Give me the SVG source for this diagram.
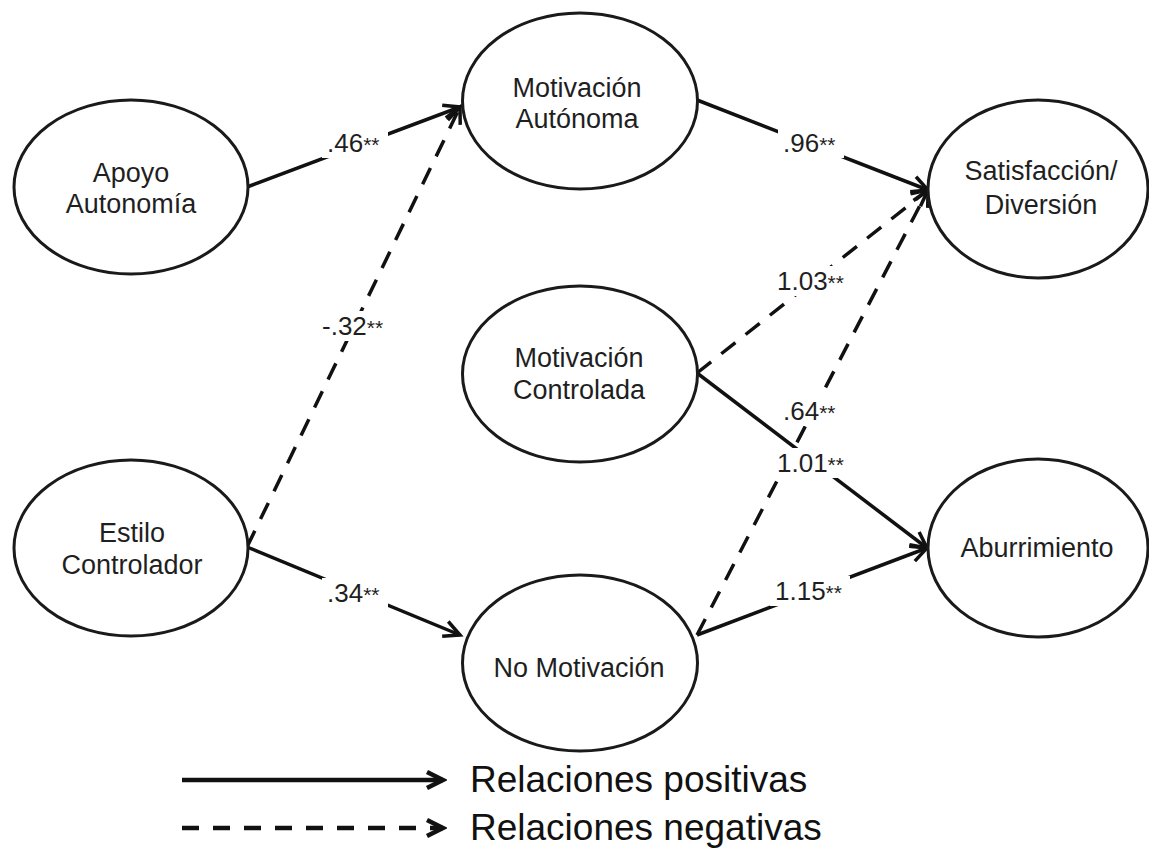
<svg xmlns="http://www.w3.org/2000/svg" width="1149" height="850" viewBox="0 0 1149 850">
<style>
.node ellipse{fill:#fff;stroke:#1a1a1a;stroke-width:3}
.node text{font-family:"Liberation Sans",Arial,sans-serif;font-size:27px;fill:#1f1f1f;text-anchor:middle}
.edge{fill:none;stroke:#111;stroke-width:3.5}
.dash{stroke-dasharray:18 13}
.lbl{font-family:"Liberation Sans",Arial,sans-serif;font-size:26px;fill:#1f1f1f}
.st{font-size:21px}
.bg{fill:#fff}
.leg{font-family:"Liberation Sans",Arial,sans-serif;font-size:37px;fill:#111}
.legline{fill:none;stroke:#111;stroke-width:4.5}
</style>
<defs>
<marker id="arr" viewBox="-20 -12 24 24" refX="0" refY="0" markerWidth="24" markerHeight="24" markerUnits="userSpaceOnUse" orient="auto">
<path d="M-16,-8 L0,0 L-16,8" fill="none" stroke="#111" stroke-width="3.5" stroke-linejoin="miter"/>
</marker>
<marker id="arrL" viewBox="-20 -12 24 24" refX="0" refY="0" markerWidth="24" markerHeight="24" markerUnits="userSpaceOnUse" orient="auto">
<path d="M-16,-8 L0,0 L-16,8" fill="none" stroke="#111" stroke-width="4.5" stroke-linejoin="miter"/>
</marker>
</defs>
<rect width="1149" height="850" fill="#fff"/>
<g id="connectors">
<line class="edge" x1="247" y1="187" x2="460" y2="107" marker-end="url(#arr)"/>
<line class="edge dash" x1="247" y1="547" x2="460" y2="107" marker-end="url(#arr)"/>
<line class="edge" x1="247" y1="547" x2="460" y2="635" marker-end="url(#arr)"/>
<line class="edge" x1="697" y1="100" x2="928" y2="190" marker-end="url(#arr)"/>
<line class="edge dash" x1="697" y1="373" x2="928" y2="190" marker-end="url(#arr)"/>
<line class="edge" x1="697" y1="373" x2="927" y2="548" marker-end="url(#arr)"/>
<line class="edge dash" x1="697" y1="635" x2="928" y2="190" marker-end="url(#arr)"/>
<line class="edge" x1="697" y1="635" x2="927" y2="548" marker-end="url(#arr)"/>
<g id="labels">
<rect class="bg" x="322" y="128" width="66" height="30"/>
<text class="lbl" x="327" y="152">.46<tspan class="st">**</tspan></text>
<rect class="bg" x="317" y="311" width="76" height="30"/>
<text class="lbl" x="322" y="335">-.32<tspan class="st">**</tspan></text>
<rect class="bg" x="322" y="578" width="66" height="30"/>
<text class="lbl" x="327" y="602">.34<tspan class="st">**</tspan></text>
<rect class="bg" x="778" y="128" width="66" height="30"/>
<text class="lbl" x="783" y="152">.96<tspan class="st">**</tspan></text>
<rect class="bg" x="772" y="266" width="80" height="30"/>
<text class="lbl" x="777" y="290">1.03<tspan class="st">**</tspan></text>
<rect class="bg" x="778" y="396" width="66" height="30"/>
<text class="lbl" x="783" y="420">.64<tspan class="st">**</tspan></text>
<rect class="bg" x="772" y="448" width="80" height="30"/>
<text class="lbl" x="777" y="472">1.01<tspan class="st">**</tspan></text>
<rect class="bg" x="770" y="576" width="80" height="30"/>
<text class="lbl" x="775" y="600">1.15<tspan class="st">**</tspan></text>
</g>
</g>
<g id="apoyo" class="node">
<ellipse cx="131" cy="187" rx="117" ry="87"/>
<text x="131" y="182">Apoyo</text>
<text x="131" y="213">Autonomía</text>
</g>
<g id="mot-autonoma" class="node">
<ellipse cx="580" cy="101" rx="117.5" ry="88"/>
<text x="577" y="97">Motivación</text>
<text x="577" y="128">Autónoma</text>
</g>
<g id="satisfaccion" class="node">
<ellipse cx="1038" cy="189" rx="110" ry="89"/>
<text x="1041" y="180">Satisfacción/</text>
<text x="1041" y="214">Diversión</text>
</g>
<g id="mot-controlada" class="node">
<ellipse cx="580" cy="374" rx="117.5" ry="88"/>
<text x="579" y="367">Motivación</text>
<text x="579" y="399">Controlada</text>
</g>
<g id="estilo" class="node">
<ellipse cx="131" cy="548" rx="117" ry="88"/>
<text x="132" y="542">Estilo</text>
<text x="132" y="574">Controlador</text>
</g>
<g id="no-motivacion" class="node">
<ellipse cx="580" cy="663" rx="117.5" ry="88"/>
<text x="579" y="677">No Motivación</text>
</g>
<g id="aburrimiento" class="node">
<ellipse cx="1038" cy="548" rx="110" ry="89"/>
<text x="1037" y="557">Aburrimiento</text>
</g>
<g id="legend">
<line class="legline" x1="182" y1="780" x2="443" y2="780" marker-end="url(#arrL)"/>
<line class="legline" x1="182" y1="828" x2="443" y2="828" stroke-dasharray="17 14" marker-end="url(#arrL)"/>
<text class="leg" x="470" y="792">Relaciones positivas</text>
<text class="leg" x="470" y="840">Relaciones negativas</text>
</g>
</svg>
